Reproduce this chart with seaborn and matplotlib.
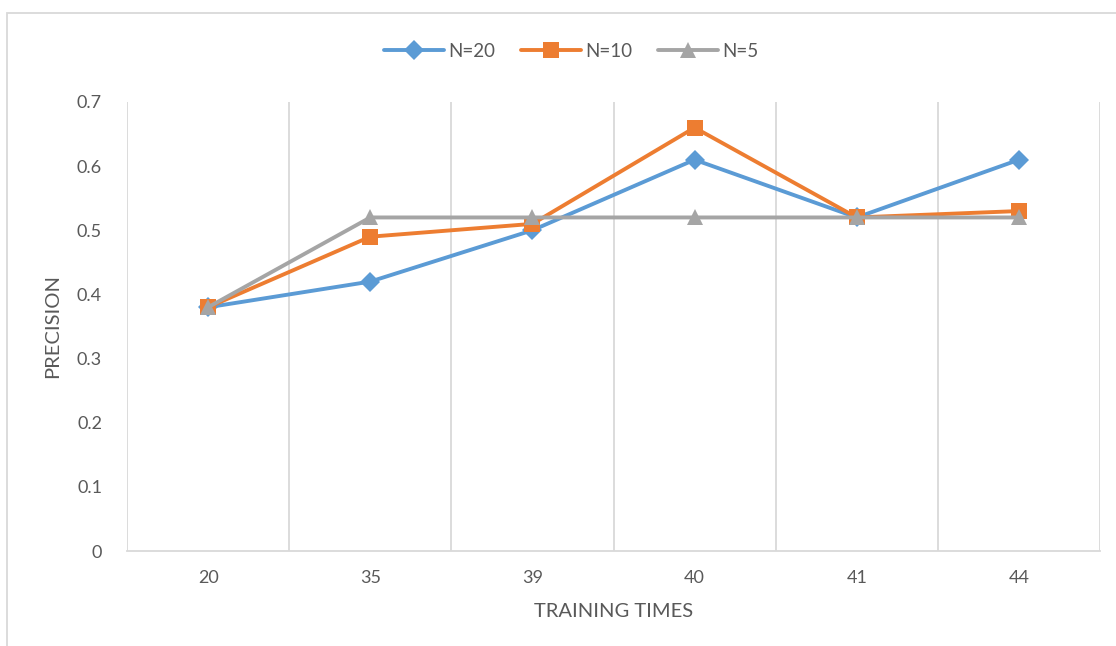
import pandas as pd
import seaborn as sb
import matplotlib.pyplot as plt
from matplotlib.patches import Rectangle
from matplotlib.ticker import FixedLocator, FuncFormatter

# chart data
training_times = ["20", "35", "39", "40", "41", "44"]
n20 = [0.38, 0.42, 0.50, 0.61, 0.52, 0.61]
n10 = [0.38, 0.49, 0.51, 0.66, 0.52, 0.53]
n5 = [0.38, 0.52, 0.52, 0.52, 0.52, 0.52]
series_names = ["N=20", "N=10", "N=5"]
y_ticks = [0, 0.1, 0.2, 0.3, 0.4, 0.5, 0.6, 0.7]

colors = {"N=20": "#5B9BD5", "N=10": "#ED7D31", "N=5": "#A5A5A5"}
markers = {"N=20": "D", "N=10": "s", "N=5": "^"}
sizes = {"N=20": 10, "N=10": 11, "N=5": 11}
text_color = "#595959"
grid_color = "#D9D9D9"


def plot_precision():
    frames = []
    for name, vals in zip(series_names, [n20, n10, n5]):
        frames.append(pd.DataFrame({"Training": training_times, "Precision": vals, "Series": name}))
    data = pd.concat(frames, ignore_index=True)

    sb.set_style("white")
    plt.rcParams["font.family"] = ["Lato", "DejaVu Sans"]

    fig = plt.figure(figsize=(11.16, 6.46), dpi=100)
    ax = fig.add_axes([127 / 1116, 95 / 646, 973 / 1116, 449 / 646])

    for name in series_names:
        sb.lineplot(
            x="Training",
            y="Precision",
            data=data[data["Series"] == name],
            color=colors[name],
            marker=markers[name],
            markersize=sizes[name],
            markeredgewidth=0,
            linewidth=2.8,
            sort=False,
            label=name,
            ax=ax,
        )

    ax.set_xlim(-0.5, len(training_times) - 0.5)
    ax.set_ylim(0, 0.7)
    ax.set_yticks(y_ticks)
    ax.yaxis.set_major_formatter(FuncFormatter(lambda v, p: f"{v:g}"))
    ax.xaxis.set_minor_locator(FixedLocator([i - 0.5 for i in range(len(training_times) + 1)]))
    ax.grid(False)
    ax.grid(True, which="minor", axis="x", color=grid_color, linewidth=1.3)
    ax.tick_params(axis="both", which="both", length=0, colors=text_color, labelsize=13)
    ax.tick_params(axis="y", pad=18)
    ax.tick_params(axis="x", pad=14)

    for side in ["top", "right", "left"]:
        ax.spines[side].set_visible(False)
    ax.spines["bottom"].set_color(grid_color)
    ax.spines["bottom"].set_linewidth(1.3)

    ax.set_xlabel("TRAINING TIMES", color=text_color, fontsize=14.5, labelpad=12)
    ax.set_ylabel("PRECISION", color=text_color, fontsize=14.5, labelpad=11)

    leg = ax.legend(
        loc="center",
        bbox_to_anchor=(0.512, 0.921),
        bbox_transform=fig.transFigure,
        ncol=3,
        frameon=False,
        fontsize=13.5,
        handlelength=3.2,
        handletextpad=0.2,
        columnspacing=1.4,
        markerscale=1.0,
    )
    for t in leg.get_texts():
        t.set_color(text_color)

    fig.add_artist(Rectangle((7 / 1116, -0.1), 1.2, 1.08, transform=fig.transFigure,
                             fill=False, edgecolor=grid_color, linewidth=1.3))

    fig.savefig("out.png", dpi=100)


def main():
    plot_precision()


if __name__ == "__main__":
    main()
